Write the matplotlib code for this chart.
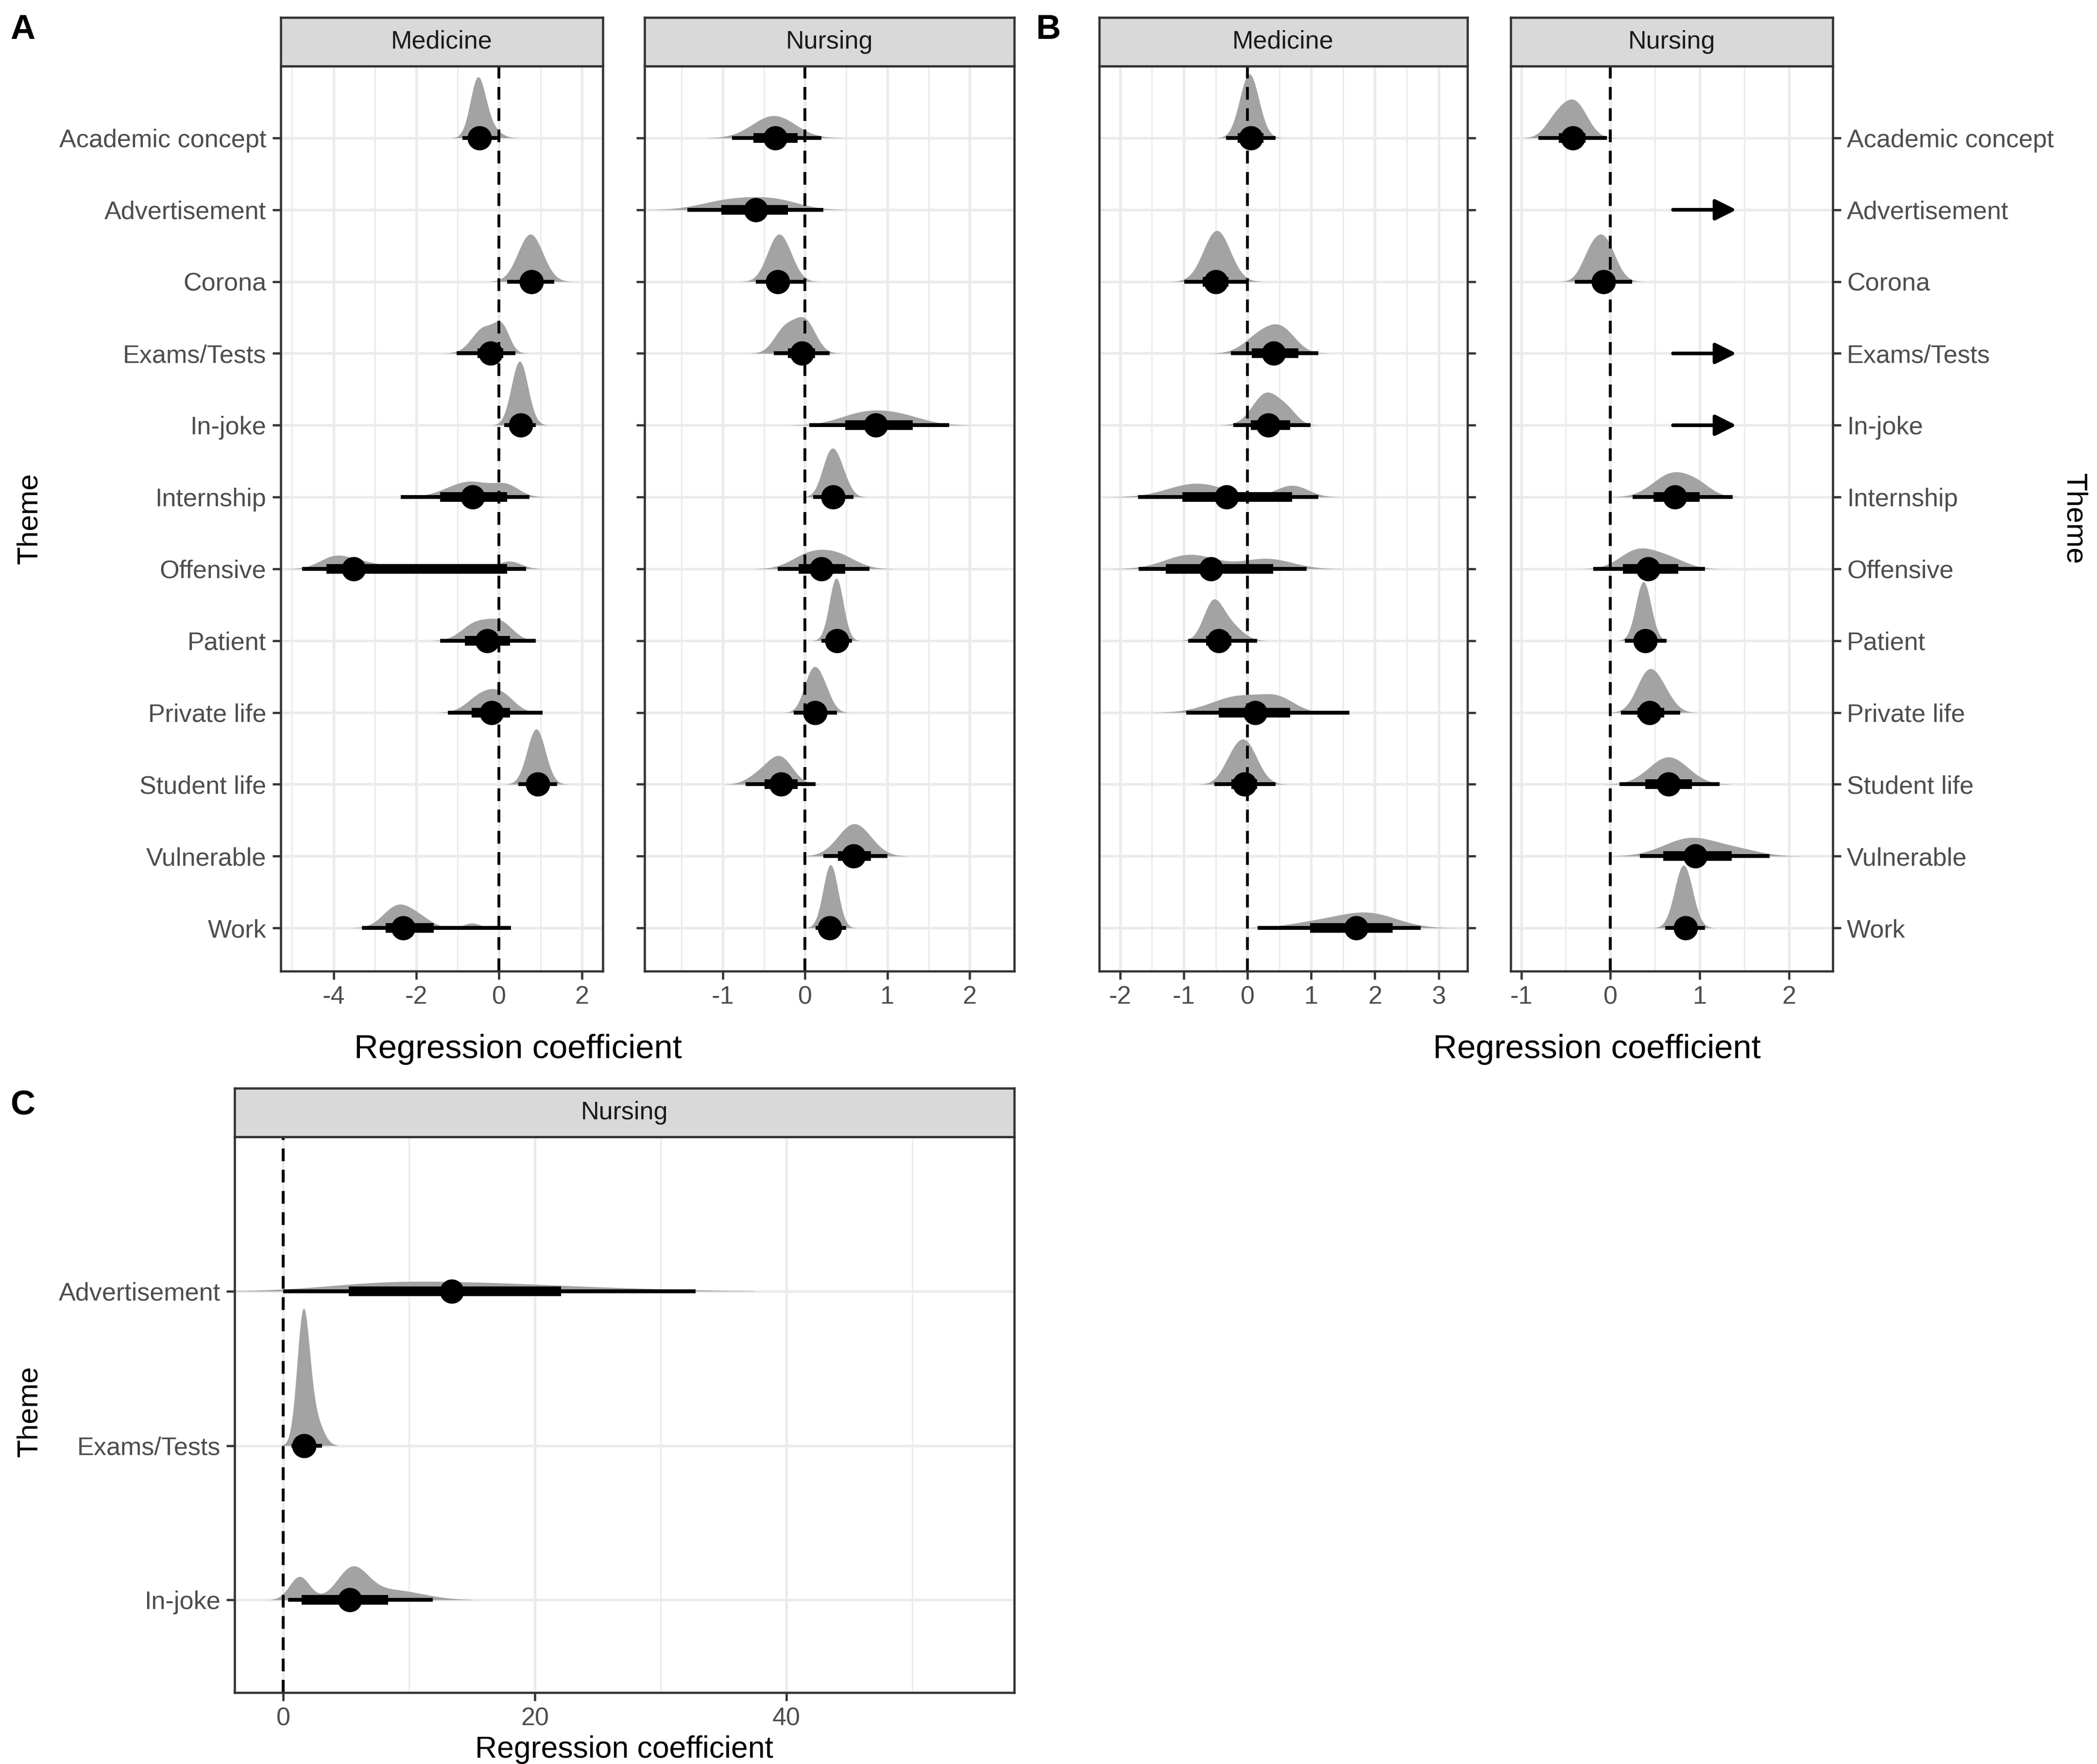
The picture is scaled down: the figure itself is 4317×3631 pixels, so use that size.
import numpy as np
import matplotlib.pyplot as plt

plt.rcParams['font.family'] = ['Liberation Sans', 'DejaVu Sans']

themes = ['Academic concept', 'Advertisement', 'Corona', 'Exams/Tests', 'In-joke',
          'Internship', 'Offensive', 'Patient', 'Private life', 'Student life',
          'Vulnerable', 'Work']

# A / Medicine  (median, 66% interval, 95% interval, slab peak height, slab shape)
a_med_point = [-0.47, None, 0.78, -0.2, 0.52, -0.64, -3.51, -0.28, -0.18, 0.93, None, -2.32]
a_med_inner = [(-0.68, -0.27), None, (0.52, 1.05), (-0.52, 0.1), (0.36, 0.69), (-1.42, 0.19),
               (-4.17, 0.19), (-0.83, 0.27), (-0.66, 0.27), (0.7, 1.15), None, (-2.74, -1.58)]
a_med_outer = [(-0.88, 0.01), None, (0.19, 1.33), (-1.03, 0.39), (0.13, 0.89), (-2.37, 0.74),
               (-4.76, 0.65), (-1.42, 0.89), (-1.24, 1.05), (0.47, 1.4), None, (-3.31, 0.29)]
a_med_peak = [0.85, None, 0.66, 0.45, 0.89, 0.22, 0.19, 0.31, 0.33, 0.77, None, 0.33]
a_med_mix = [[(-0.52, 0.18, 1.0), (-0.3, 0.25, 0.25)], None, [(0.76, 0.3, 1.0)],
             [(-0.35, 0.3, 0.8), (0.08, 0.18, 0.65)], [(0.5, 0.2, 1.0)],
             [(-0.7, 0.55, 1.0), (0.2, 0.3, 0.6)],
             [(-3.95, 0.38, 1.0), (-3.2, 0.4, 0.45), (0.25, 0.28, 0.6), (-1.5, 1.0, 0.08)],
             [(-0.55, 0.35, 0.7), (0.05, 0.3, 0.65)], [(-0.4, 0.35, 0.75), (0.1, 0.3, 0.6)],
             [(0.9, 0.22, 1.0)], None,
             [(-2.45, 0.35, 1.0), (-1.9, 0.3, 0.35), (-0.65, 0.2, 0.22)]]

# A / Nursing
a_nur_point = [-0.36, -0.6, -0.33, -0.04, 0.86, 0.34, 0.2, 0.39, 0.12, -0.29, 0.59, 0.3]
a_nur_inner = [(-0.63, -0.09), (-1.02, -0.21), (-0.45, -0.2), (-0.21, 0.12), (0.49, 1.31),
               (0.22, 0.47), (-0.08, 0.49), (0.3, 0.5), (0.0, 0.25), (-0.49, -0.09),
               (0.4, 0.8), (0.22, 0.4)]
a_nur_outer = [(-0.89, 0.2), (-1.43, 0.22), (-0.6, 0.0), (-0.38, 0.3), (0.05, 1.75),
               (0.1, 0.59), (-0.33, 0.78), (0.2, 0.57), (-0.14, 0.39), (-0.72, 0.13),
               (0.22, 1.0), (0.13, 0.5)]
a_nur_peak = [0.31, 0.18, 0.66, 0.51, 0.21, 0.68, 0.27, 0.87, 0.64, 0.4, 0.45, 0.88]
a_nur_mix = [[(-0.38, 0.26, 1.0)], [(-0.9, 0.35, 0.8), (-0.35, 0.3, 0.7)],
             [(-0.34, 0.13, 1.0), (-0.2, 0.12, 0.3)], [(-0.25, 0.13, 0.75), (0.0, 0.13, 1.0)],
             [(0.7, 0.3, 0.8), (1.15, 0.3, 0.65)], [(0.3, 0.1, 1.0), (0.43, 0.1, 0.55)],
             [(0.05, 0.22, 0.75), (0.4, 0.22, 0.7)], [(0.38, 0.085, 1.0)],
             [(0.08, 0.1, 1.0), (0.22, 0.1, 0.6)], [(-0.3, 0.15, 1.0), (-0.55, 0.15, 0.35)],
             [(0.6, 0.2, 1.0)], [(0.31, 0.09, 1.0)]]

# B / Medicine
b_med_point = [0.05, None, -0.5, 0.41, 0.33, -0.33, -0.57, -0.45, 0.12, -0.05, None, 1.71]
b_med_inner = [(-0.15, 0.25), None, (-0.7, -0.3), (0.07, 0.8), (0.05, 0.67), (-1.02, 0.7),
               (-1.28, 0.4), (-0.65, -0.25), (-0.45, 0.67), (-0.25, 0.15), None, (0.98, 2.28)]
b_med_outer = [(-0.34, 0.44), None, (-0.99, 0.0), (-0.26, 1.11), (-0.22, 0.99), (-1.72, 1.11),
               (-1.71, 0.93), (-0.93, 0.15), (-0.96, 1.6), (-0.52, 0.44), None, (0.16, 2.72)]
b_med_peak = [0.89, None, 0.71, 0.41, 0.46, 0.19, 0.2, 0.58, 0.26, 0.63, None, 0.22]
b_med_mix = [[(0.03, 0.15, 1.0)], None, [(-0.48, 0.21, 1.0)],
             [(0.2, 0.25, 0.85), (0.55, 0.22, 1.0)], [(0.3, 0.22, 1.0), (0.65, 0.15, 0.3)],
             [(-0.8, 0.45, 1.0), (0.7, 0.25, 0.85)], [(-0.9, 0.4, 1.0), (0.3, 0.4, 0.72)],
             [(-0.55, 0.15, 1.0), (-0.3, 0.2, 0.5)], [(-0.1, 0.45, 0.85), (0.5, 0.25, 0.5)],
             [(-0.05, 0.2, 1.0), (-0.3, 0.15, 0.18)], None,
             [(1.9, 0.45, 1.0), (1.1, 0.45, 0.4)]]

# B / Nursing
b_nur_point = [-0.42, None, -0.08, None, None, 0.72, 0.42, 0.39, 0.44, 0.65, 0.95, 0.84]
b_nur_inner = [(-0.58, -0.28), None, (-0.2, 0.05), None, None, (0.48, 1.0), (0.14, 0.76),
               (0.28, 0.5), (0.3, 0.6), (0.39, 0.91), (0.59, 1.36), (0.72, 0.95)]
b_nur_outer = [(-0.81, -0.04), None, (-0.4, 0.24), None, None, (0.25, 1.37), (-0.19, 1.06),
               (0.16, 0.63), (0.12, 0.78), (0.1, 1.22), (0.33, 1.78), (0.61, 1.06)]
b_nur_peak = [0.54, None, 0.66, None, None, 0.35, 0.29, 0.82, 0.61, 0.38, 0.26, 0.875]
b_nur_mix = [[(-0.4, 0.14, 1.0), (-0.62, 0.12, 0.45)], None,
             [(-0.08, 0.13, 1.0), (-0.25, 0.1, 0.33)], None, None,
             [(0.7, 0.22, 1.0), (1.0, 0.15, 0.3)], [(0.3, 0.2, 1.0), (0.65, 0.2, 0.55)],
             [(0.37, 0.085, 1.0)], [(0.42, 0.13, 1.0), (0.6, 0.12, 0.36)],
             [(0.65, 0.22, 1.0)], [(0.9, 0.3, 1.0), (1.45, 0.25, 0.3)], [(0.82, 0.1, 1.0)]]
# themes whose estimate lies off this scale (shown in C)
b_nur_arrow = ['Advertisement', 'Exams/Tests', 'In-joke']
arrow_from, arrow_to = 0.7, 1.41

# C / Nursing
c_themes = ['Advertisement', 'Exams/Tests', 'In-joke']
c_point = [13.4, 1.65, 5.27]
c_inner = [(5.2, 22.1), (1.1, 2.3), (1.48, 8.35)]
c_outer = [(0.0, 32.8), (0.66, 3.1), (0.38, 11.9)]
c_peak = [0.064, 0.89, 0.22]
c_mix = [[(8, 5, 0.8), (17, 6, 0.8), (28, 5, 0.2)],
         [(1.6, 0.5, 1.0), (2.6, 0.6, 0.18)],
         [(1.3, 0.8, 0.8), (5.5, 1.2, 1.0), (8.5, 2.5, 0.35)]]

TXT = '#4D4D4D'
GRID = '#EBEBEB'
EDGE = '#333333'
SLAB = '#A3A3A3'

fig = plt.figure(figsize=(4317 / 300, 3631 / 300), dpi=300)


def panel(rect, strip_h, title, names, xlim, major, minor, point, inner, outer, peak, mix,
          ylabels='left', ticks='left', arrows=()):
    l, b, w, h = rect
    ax = fig.add_axes(rect)
    n = len(names)
    ys = [n - 1 - i for i in range(n)]
    ax.set_xlim(*xlim)
    ax.set_ylim(-0.6, n - 1 + 1.0)
    for x in minor:
        ax.axvline(x, color=GRID, lw=0.7, zorder=0)
    for x in major:
        ax.axvline(x, color=GRID, lw=1.3, zorder=0)
    for y in ys:
        ax.axhline(y, color=GRID, lw=1.3, zorder=0)
    xs = np.linspace(xlim[0], xlim[1], 1500)
    for i, y in enumerate(ys):
        if mix[i] is not None:
            d = np.zeros_like(xs)
            for mu, sd, wt in mix[i]:
                d += wt * np.exp(-0.5 * ((xs - mu) / sd) ** 2)
            d = d / d.max() * peak[i]
            ax.fill_between(xs, y, y + d, where=d > 0.002, color=SLAB, lw=0, zorder=1)
    ax.axvline(0, color='black', lw=1.4, ls=(0, (4.5, 3)), zorder=2)
    for i, y in enumerate(ys):
        if point[i] is None:
            continue
        ax.plot(outer[i], [y, y], color='black', lw=1.9, solid_capstyle='butt', zorder=3)
        ax.plot(inner[i], [y, y], color='black', lw=4.8, solid_capstyle='butt', zorder=3)
        ax.plot(point[i], y, 'o', color='black', ms=11, zorder=4)
    for nm in arrows:
        y = ys[names.index(nm)]
        ax.annotate('', xy=(arrow_to, y), xytext=(arrow_from, y),
                    arrowprops=dict(arrowstyle='-|>', color='black', lw=1.8,
                                    mutation_scale=22, shrinkA=0, shrinkB=0), zorder=4)
    ax.set_xticks(major)
    ax.set_xticklabels(['%g' % v for v in major])
    ax.set_yticks(ys)
    ax.set_yticklabels(names)
    ax.tick_params(axis='both', colors=EDGE, labelcolor=TXT, labelsize=12.5,
                   length=4, width=1.1, pad=3)
    if ticks == 'right':
        ax.yaxis.tick_right()
    ax.tick_params(axis='y', labelleft=(ylabels == 'left'),
                   labelright=(ylabels == 'right'))
    for s in ax.spines.values():
        s.set_color(EDGE)
        s.set_linewidth(1.1)
    ax.set_facecolor('white')
    sx = fig.add_axes([l, b + h, w, strip_h])
    sx.set_facecolor('#D9D9D9')
    sx.set_xticks([])
    sx.set_yticks([])
    for s in sx.spines.values():
        s.set_color(EDGE)
        s.set_linewidth(1.1)
    sx.text(0.5, 0.5, title, ha='center', va='center', fontsize=12.5, color='#1A1A1A',
            transform=sx.transAxes)
    return ax


pb, pt = 0.4495, 0.9625
ph = pt - pb
sh = 0.0276

panel([0.1338, pb, 0.1537, ph], sh, 'Medicine', themes, (-5.28, 2.51),
      [-4, -2, 0, 2], [-5, -3, -1, 1],
      a_med_point, a_med_inner, a_med_outer, a_med_peak, a_med_mix)
panel([0.3074, pb, 0.1762, ph], sh, 'Nursing', themes, (-1.95, 2.54),
      [-1, 0, 1, 2], [-1.5, -0.5, 0.5, 1.5],
      a_nur_point, a_nur_inner, a_nur_outer, a_nur_peak, a_nur_mix, ylabels='none')
panel([0.5241, pb, 0.1756, ph], sh, 'Medicine', themes, (-2.33, 3.45),
      [-2, -1, 0, 1, 2, 3], [-1.5, -0.5, 0.5, 1.5, 2.5],
      b_med_point, b_med_inner, b_med_outer, b_med_peak, b_med_mix,
      ylabels='none', ticks='right')
panel([0.7203, pb, 0.1537, ph], sh, 'Nursing', themes, (-1.12, 2.49),
      [-1, 0, 1, 2], [-0.5, 0.5, 1.5],
      b_nur_point, b_nur_inner, b_nur_outer, b_nur_peak, b_nur_mix,
      ylabels='right', ticks='right', arrows=b_nur_arrow)
panel([0.1119, 0.0405, 0.3717, 0.315], sh, 'Nursing', c_themes, (-3.86, 58.1),
      [0, 20, 40], [10, 30, 50],
      c_point, c_inner, c_outer, c_peak, c_mix)

fig.text(0.005, 0.983, 'A', fontsize=17, fontweight='bold', va='center')
fig.text(0.494, 0.983, 'B', fontsize=17, fontweight='bold', va='center')
fig.text(0.005, 0.373, 'C', fontsize=17, fontweight='bold', va='center')

fig.text(0.247, 0.405, 'Regression coefficient', fontsize=16.5, ha='center', va='center')
fig.text(0.7614, 0.405, 'Regression coefficient', fontsize=16.5, ha='center', va='center')
fig.text(0.2977, 0.008, 'Regression coefficient', fontsize=15, ha='center', va='center')

fig.text(0.014, 0.706, 'Theme', fontsize=14.5, rotation=90, ha='center', va='center')
fig.text(0.989, 0.706, 'Theme', fontsize=14.5, rotation=270, ha='center', va='center')
fig.text(0.014, 0.2, 'Theme', fontsize=14.5, rotation=90, ha='center', va='center')

fig.savefig('out.png', dpi=300, facecolor='white')
